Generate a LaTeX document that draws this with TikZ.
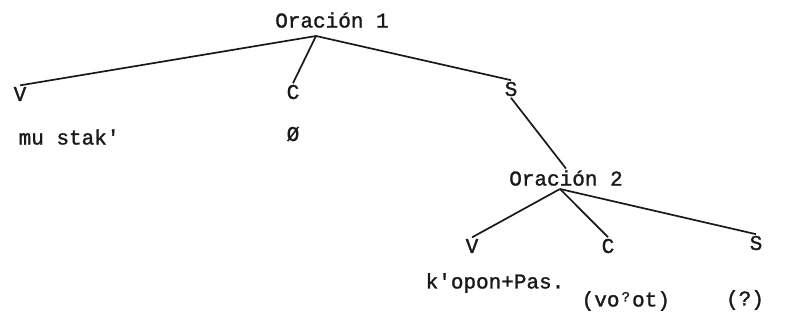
\documentclass[tikz,border=0pt]{standalone}
\usepackage{fontspec}
\setmonofont[FakeBold=1.3]{Liberation Mono}
\begin{document}
\begin{tikzpicture}[x=1pt,y=-1pt,
  lbl/.style={font=\ttfamily\fontsize{21}{23}\selectfont, inner sep=1.5pt, text=black!90},
  branch/.style={line width=1.7pt, black!90}]
\useasboundingbox (0,0) rectangle (805,321);

% upper clause
\node[lbl] (o1) at (332,20) {Oración 1};
\coordinate (o1top) at (316,36);
\node[lbl] (v1) at (20,94) {V};
\node[lbl] (c1) at (293,92) {C};
\node[lbl] (s1) at (511,89) {S};
\node[lbl, anchor=west] (w1) at (17,137) {mu stak'};
\node[lbl] (z1) at (293,134) {Ø};

\draw[branch] (o1top) -- (v1.north);
\draw[branch] (o1top) -- (c1.north);
\draw[branch] (o1top) -- (s1.north);

% embedded clause
\node[lbl] (o2) at (566,178) {Oración 2};
\coordinate (o2top) at (560,189);
\draw[branch] (s1.south) -- (o2.north);
\node[lbl] (v2) at (472,246) {V};
\node[lbl] (c2) at (608,246) {C};
\node[lbl] (s2) at (756,243) {S};
\node[lbl, anchor=west] (w2) at (424,283) {k'opon+Pas.};
\node[lbl, anchor=west] (w3) at (580,301) {(vo\makebox[0.6em]{\raisebox{0.45ex}{\fontsize{14}{14}\selectfont ?}}ot)};
\node[lbl] (w4) at (745,300) {(?)};

\draw[branch] (o2top) -- (v2.north);
\draw[branch] (o2top) -- (c2.north);
\draw[branch] (o2top) -- (s2.north);
\end{tikzpicture}
\end{document}
